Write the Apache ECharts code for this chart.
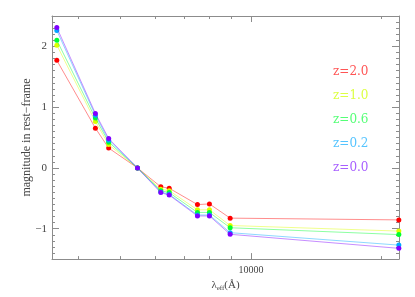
<!DOCTYPE html>
<html>
<head>
<meta charset="utf-8">
<script src="https://cdn.jsdelivr.net/npm/echarts@6/dist/echarts.min.js"></script>
<style>html,body{margin:0;padding:0;background:#fff;}#c{width:415px;height:297px;}</style>
</head>
<body>
<div id="c"></div>
<script>
// Effective wavelengths (Angstrom) of the bands
const lambdaEff = [3560, 4370, 4690, 5466, 6187, 6470, 7519, 8013, 8946, 21930];
// Magnitudes in rest-frame per redshift
const magZ20 = [1.77, 0.655, 0.327, 0, -0.31, -0.334, -0.603, -0.592, -0.826, -0.855];
const magZ10 = [2.02, 0.763, 0.384, 0, -0.35, -0.374, -0.689, -0.689, -0.947, -1.039];
const magZ06 = [2.10, 0.82, 0.424, 0, -0.374, -0.406, -0.732, -0.732, -0.984, -1.097];
const magZ02 = [2.26, 0.868, 0.456, 0, -0.394, -0.435, -0.774, -0.774, -1.065, -1.27];
const magZ00 = [2.31, 0.897, 0.484, 0, -0.406, -0.447, -0.79, -0.79, -1.092, -1.323];
const seriesNames = ['z=2.0', 'z=1.0', 'z=0.6', 'z=0.2', 'z=0.0'];
const yTickLabels = [-1, 0, 1, 2];
const xTickLabels = [10000];
const xMinorTicks = [4000, 5000, 6000, 7000, 8000, 9000, 20000];
const xMin = 3470, xMax = 21950;
const yMin = -1.5, yMax = 2.5;

const markerColors = ['#ff0000', '#ddff00', '#00ff30', '#00a8ff', '#8000ff'];
const textColors = ['#ff5555', '#ddff44', '#55ff77', '#55c4ff', '#a860ff'];
const allMags = [magZ20, magZ10, magZ06, magZ02, magZ00];

const axisGray = '#8c8c8c';
const labelFont = 'Liberation Serif';

const chart = echarts.init(document.getElementById('c'), null, {renderer: 'canvas'});

const series = allMags.map((mags, i) => ({
  name: seriesNames[i],
  type: 'line',
  xAxisIndex: 0,
  yAxisIndex: 0,
  data: lambdaEff.map((l, j) => [l, mags[j]]),
  symbol: 'circle',
  symbolSize: 5,
  itemStyle: {color: markerColors[i]},
  lineStyle: {color: markerColors[i], width: 1, opacity: 0.45},
  z: 2 + i,
  animation: false
}));

const lg = v => Math.log10(v);

const option = {
  animation: false,
  grid: {left: 52, right: 16, top: 16, bottom: 33, containLabel: false},
  legend: {
    orient: 'vertical',
    left: 323,
    top: 60,
    icon: 'none',
    itemWidth: 0,
    itemHeight: 14,
    itemGap: 11,
    selectedMode: false,
    textStyle: {fontFamily: 'DejaVu Serif', fontSize: 12},
    data: seriesNames.map((n, i) => ({name: n, textStyle: {color: textColors[i]}}))
  },
  xAxis: [
    {
      type: 'log', position: 'bottom', min: xMin, max: xMax,
      axisLine: {show: true, onZero: false, lineStyle: {color: axisGray}},
      axisTick: {show: true, inside: true, length: 6, lineStyle: {color: axisGray}},
      minorTick: {show: false},
      splitLine: {show: false},
      axisLabel: {show: true, margin: 6, color: '#444', fontFamily: labelFont, fontSize: 10,
        showMinLabel: false, showMaxLabel: false,
        formatter: v => (xTickLabels.indexOf(Math.round(v)) >= 0 ? String(Math.round(v)) : '')},
      name: '{a|λ}{s|eff}{a|(Å)}',
      nameLocation: 'middle',
      nameGap: 15,
      nameTextStyle: {
        color: '#444',
        rich: {
          a: {fontFamily: labelFont, fontSize: 11, color: '#444'},
          s: {fontFamily: labelFont, fontSize: 7, color: '#444', verticalAlign: 'bottom', padding: [6, 0, 0, 0]}
        }
      }
    },
    {
      type: 'value', position: 'bottom', min: lg(xMin), max: lg(xMax),
      axisLine: {show: false, onZero: false},
      axisTick: {show: true, inside: true, length: 3, customValues: xMinorTicks.map(lg), lineStyle: {color: axisGray}},
      axisLabel: {show: false},
      splitLine: {show: false}
    },
    {
      type: 'log', position: 'top', min: xMin, max: xMax,
      axisLine: {show: true, onZero: false, lineStyle: {color: axisGray}},
      axisTick: {show: true, inside: true, length: 6, lineStyle: {color: axisGray}},
      axisLabel: {show: false},
      splitLine: {show: false}
    },
    {
      type: 'value', position: 'top', min: lg(xMin), max: lg(xMax),
      axisLine: {show: false, onZero: false},
      axisTick: {show: true, inside: true, length: 3, customValues: xMinorTicks.map(lg), lineStyle: {color: axisGray}},
      axisLabel: {show: false},
      splitLine: {show: false}
    }
  ],
  yAxis: [
    {
      type: 'value', position: 'left', min: yMin, max: yMax,
      axisLine: {show: true, onZero: false, lineStyle: {color: axisGray}},
      axisTick: {show: true, inside: true, length: 7, customValues: yTickLabels, lineStyle: {color: axisGray}},
      axisLabel: {show: true, customValues: yTickLabels, margin: 5, color: '#444', fontFamily: labelFont, fontSize: 11,
        formatter: v => String(v).replace('-', '\u2212')},
      splitLine: {show: false},
      name: 'magnitude in rest\u2212frame',
      nameLocation: 'middle',
      nameGap: 19,
      nameMoveOverlap: false,
      nameTextStyle: {color: '#444', fontFamily: labelFont, fontSize: 12}
    },
    {
      type: 'value', position: 'left', min: yMin, max: yMax, interval: 0.1,
      axisLine: {show: false, onZero: false},
      axisTick: {show: true, inside: true, length: 3, lineStyle: {color: axisGray}},
      axisLabel: {show: false},
      splitLine: {show: false}
    },
    {
      type: 'value', position: 'right', min: yMin, max: yMax,
      axisLine: {show: true, onZero: false, lineStyle: {color: axisGray}},
      axisTick: {show: true, inside: true, length: 7, customValues: yTickLabels, lineStyle: {color: axisGray}},
      axisLabel: {show: false},
      splitLine: {show: false}
    },
    {
      type: 'value', position: 'right', min: yMin, max: yMax, interval: 0.1,
      axisLine: {show: false, onZero: false},
      axisTick: {show: true, inside: true, length: 3, lineStyle: {color: axisGray}},
      axisLabel: {show: false},
      splitLine: {show: false}
    }
  ],
  series: series
};
chart.setOption(option);
</script>
</body>
</html>
